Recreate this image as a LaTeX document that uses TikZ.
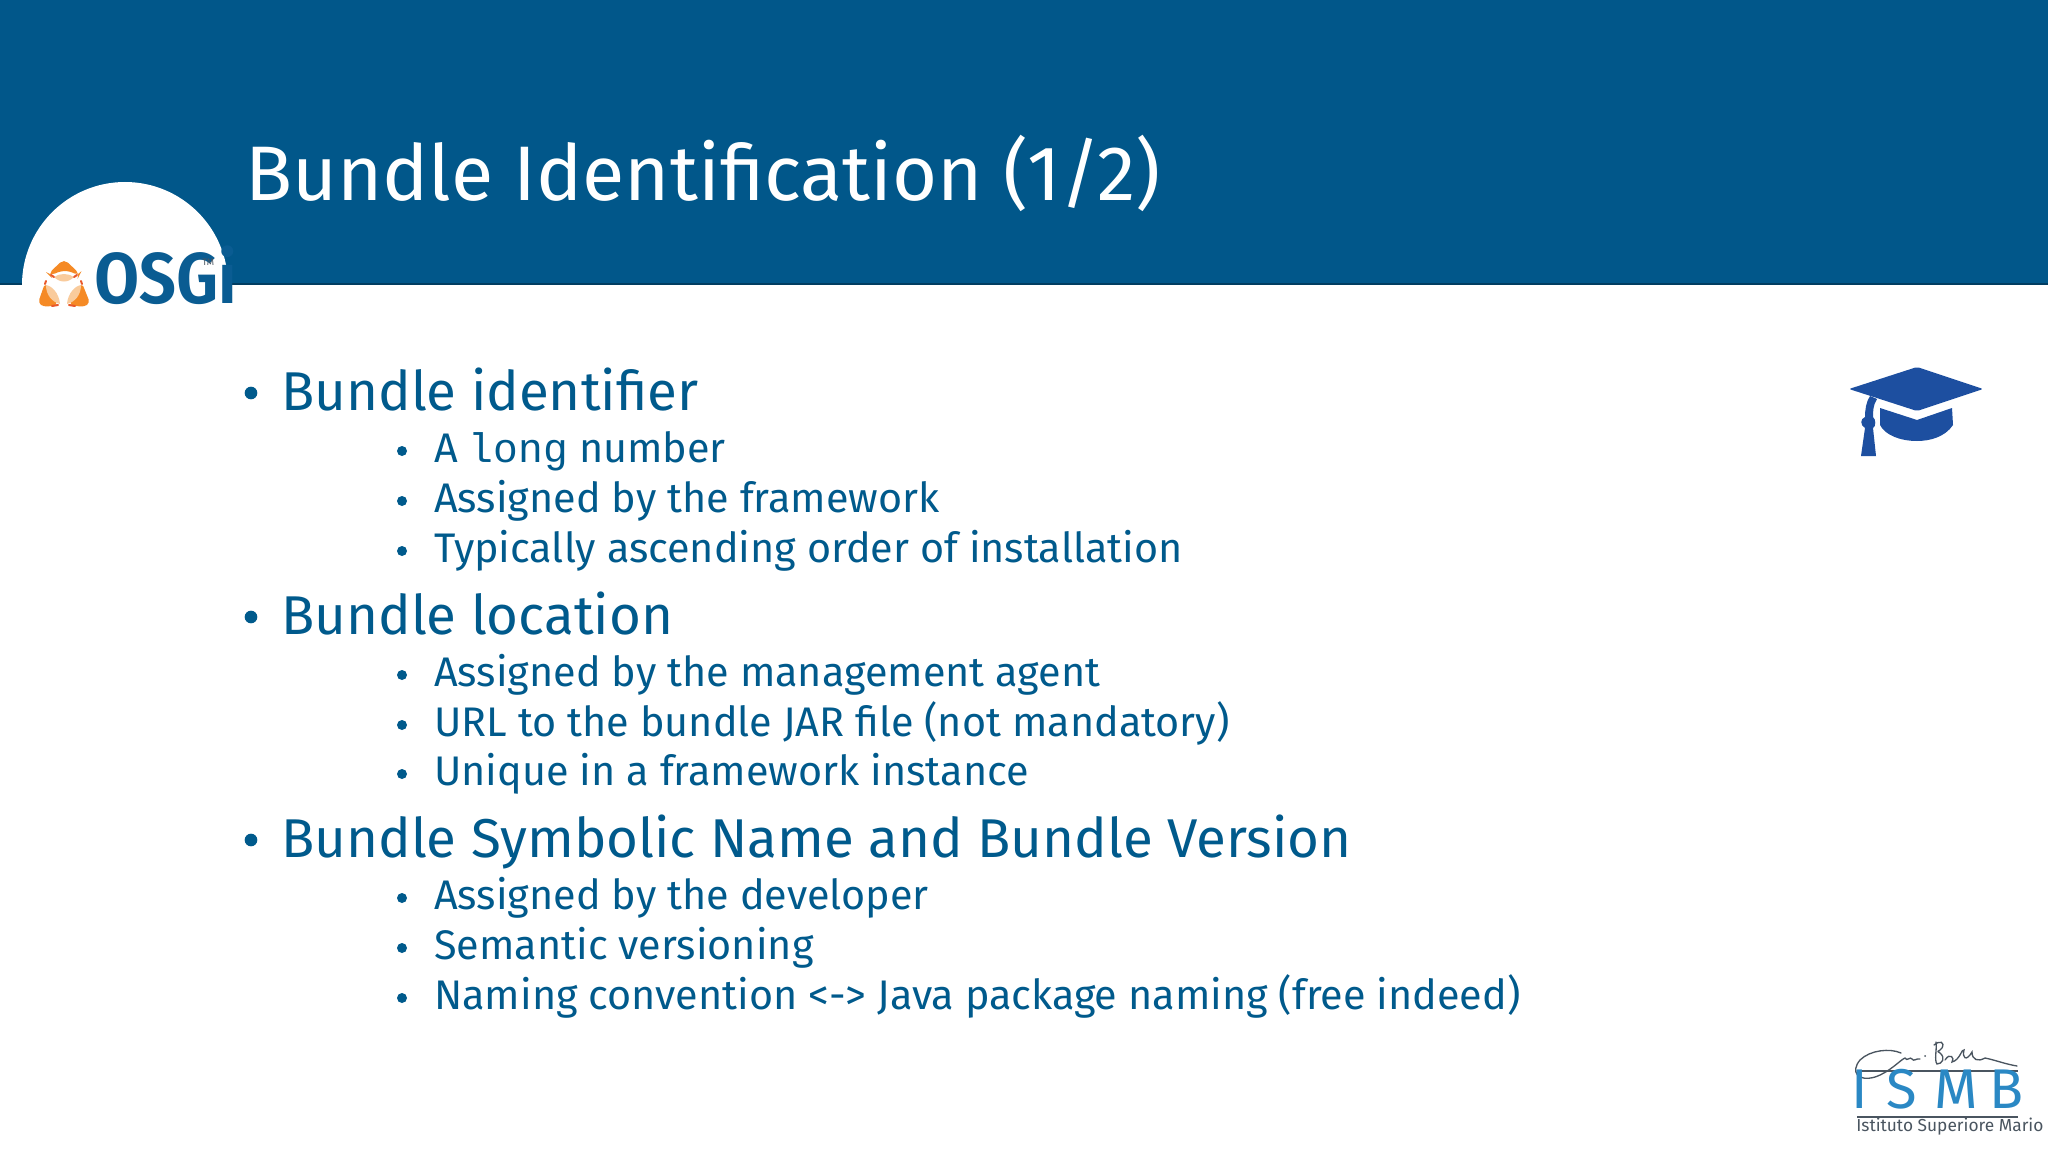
\documentclass[tikz,border=0pt]{standalone}
\usepackage{fontspec}
\setmainfont{Fira Sans}
\setmonofont{Liberation Mono}
\newfontfamily\logofont{Fira Sans Condensed}[UprightFont=* SemiBold]
\definecolor{hdr}{HTML}{01578A}
\definecolor{txt}{HTML}{005A8C}
\definecolor{osg}{HTML}{F58A25}
\definecolor{osl}{HTML}{F9CB9C}
\definecolor{osr}{HTML}{E9582A}
\definecolor{osb}{HTML}{0A5C92}
\definecolor{hat}{HTML}{1D4FA0}
\definecolor{ismb}{HTML}{2A88C4}
\definecolor{ink}{HTML}{4A5560}
\tikzset{
 titletext/.style={anchor=base west,inner sep=0pt,text=white,font=\fontsize{58}{60}\selectfont},
 lone/.style={anchor=base west,inner sep=0pt,text=txt,font=\fontsize{41}{44}\selectfont},
 ltwo/.style={anchor=base west,inner sep=0pt,text=txt,font=\fontsize{31}{34}\selectfont},
 dot/.style={circle,fill=txt,inner sep=0pt},
 bone/.style={dot,minimum size=9.5},
 btwo/.style={dot,minimum size=7.5},
}
\begin{document}
\begin{tikzpicture}[x=0.75pt,y=-0.75pt]
\useasboundingbox (0,0) rectangle (2048,1152);
\fill[white] (0,0) rectangle (2048,1152);
\fill[hdr] (0,0) rectangle (2048,284);
\draw[hdr!70!black,line width=1] (0,284) -- (2048,284);
\fill[white] (125,285) circle (103);
\fill[white] (0,285) rectangle (2048,1152);
\node[titletext] (title) at (245,200) {Bundle Identification (1/2)};
% logo
\fill[osg,rounded corners=4] (64,259) -- (48,274) -- (50,276) -- (60,271) -- (70,271) -- (79,276) -- (80,274) -- cycle;
\fill[osg,rounded corners=3] (45,283) -- (38,303) -- (44,307) -- (58,305) -- cycle;
\fill[osg,rounded corners=3] (82,283) -- (90,303) -- (84,307) -- (69,305) -- cycle;
\fill[osl] (54,277) .. controls (60,273) and (68,273) .. (74,277) .. controls (68,283) and (60,283) .. (54,277) -- cycle;
\fill[osl] (46,285) .. controls (52,286) and (59,293) .. (60,304) .. controls (52,302) and (46,295) .. (46,285) -- cycle;
\fill[osl] (81,285) .. controls (75,286) and (68,293) .. (67,304) .. controls (75,302) and (81,295) .. (81,285) -- cycle;
\draw[osr,line width=1.5,line cap=round] (51,275) -- (54,277) (77,275) -- (74,277) (45,284) -- (46,281) (82,284) -- (81,281) (52,306) -- (58,305) (69,305) -- (75,306);
\node[anchor=base west,inner sep=0pt,text=osb,font=\logofont\fontsize{54}{54}\selectfont] (osgi) at (94,303) {OSGi};
\node[anchor=base west,inner sep=0pt,text=ink,font=\fontsize{7}{7}\selectfont] (tm) at (202,265) {TM};
% bullets
\foreach \nm/\yy in {a/393,b/617,c/840} \node[bone] (b\nm) at (251,\yy) {};
\foreach \nm/\yy in {a1/451,a2/501,a3/551,b1/675,b2/725,b3/774,c1/898,c2/948,c3/998} \node[btwo] (s\nm) at (402,\yy) {};
\node[lone] (la) at (281,410) {Bundle identifier};
\node[lone] (lb) at (281,634) {Bundle location};
\node[lone] (lc) at (281,857) {Bundle Symbolic Name and Bundle Version};
\node[ltwo] (a1) at (434,462) {A {\ttfamily long} number};
\node[ltwo] (a2) at (434,512) {Assigned by the framework};
\node[ltwo] (a3) at (434,562) {Typically ascending order of installation};
\node[ltwo] (b1) at (434,686) {Assigned by the management agent};
\node[ltwo] (b2) at (434,736) {URL to the bundle JAR file (not mandatory)};
\node[ltwo] (b3) at (434,785) {Unique in a framework instance};
\node[ltwo] (c1) at (434,909) {Assigned by the developer};
\node[ltwo] (c2) at (434,959) {Semantic versioning};
\node[ltwo] (c3) at (434,1009) {Naming convention <-> Java package naming (free indeed)};
% hat
\fill[hat,rounded corners=1.5] (1917,367) -- (1983,389) -- (1917,411) -- (1849,389) -- cycle;
\fill[hat] (1880,408) -- (1917,420) -- (1952,408) -- (1953,425) .. controls (1945,437) and (1930,441) .. (1917,441) .. controls (1900,441) and (1885,435) .. (1880,425) -- cycle;
\fill[hat] (1870,396) -- (1877,399) .. controls (1873,405) and (1873,412) .. (1873,417) .. controls (1876,419) and (1876,427) .. (1873,428) -- (1876,456) -- (1861,456) -- (1865,428) .. controls (1860,425) and (1860,419) .. (1865,417) .. controls (1865,410) and (1866,402) .. (1870,396) -- cycle;
% ISMB
\draw[ink,line width=1.1] (1857,1071) -- (2018,1071) (1857,1117) -- (2018,1117);
\draw[ink,line width=1,line cap=round] (1901,1053) .. controls (1890,1048) and (1870,1050) .. (1860,1060) .. controls (1850,1072) and (1858,1082) .. (1875,1077) .. controls (1890,1072) and (1900,1060) .. (1905,1058) .. controls (1907,1062) and (1910,1056) .. (1912,1059) .. controls (1914,1062) and (1916,1058) .. (1920,1059);
\fill[ink] (1925,1056) circle (1);
\draw[ink,line width=1,line cap=round] (1934,1045) .. controls (1940,1040) and (1945,1042) .. (1942,1048) .. controls (1938,1053) and (1936,1050) .. (1940,1053) .. controls (1946,1058) and (1942,1064) .. (1937,1064) .. controls (1934,1060) and (1937,1050) .. (1936,1042) (1945,1060) .. controls (1950,1052) and (1955,1058) .. (1952,1062) .. controls (1960,1060) and (1962,1048) .. (1964,1050) .. controls (1962,1058) and (1966,1062) .. (1972,1052) .. controls (1972,1060) and (1978,1062) .. (1985,1058) .. controls (1995,1060) and (2005,1064) .. (2017,1066);
\node[anchor=base,inner sep=0pt,text=ismb,font=\fontsize{42}{42}\selectfont\addfontfeature{LetterSpace=0}] (li) at (1860,1108) {I};
\node[anchor=base,inner sep=0pt,text=ismb,font=\fontsize{42}{42}\selectfont] (ls) at (1902,1108) {S};
\node[anchor=base,inner sep=0pt,text=ismb,font=\fontsize{42}{42}\selectfont] (lm) at (1956,1108) {M};
\node[anchor=base,inner sep=0pt,text=ismb,font=\fontsize{42}{42}\selectfont] (lb2) at (2006,1108) {B};
\node[anchor=base west,inner sep=0pt,text=ink,font=\fontsize{13}{13}\selectfont] (inst) at (1856,1131) {Istituto Superiore Mario Boella};
\end{tikzpicture}
\end{document}
